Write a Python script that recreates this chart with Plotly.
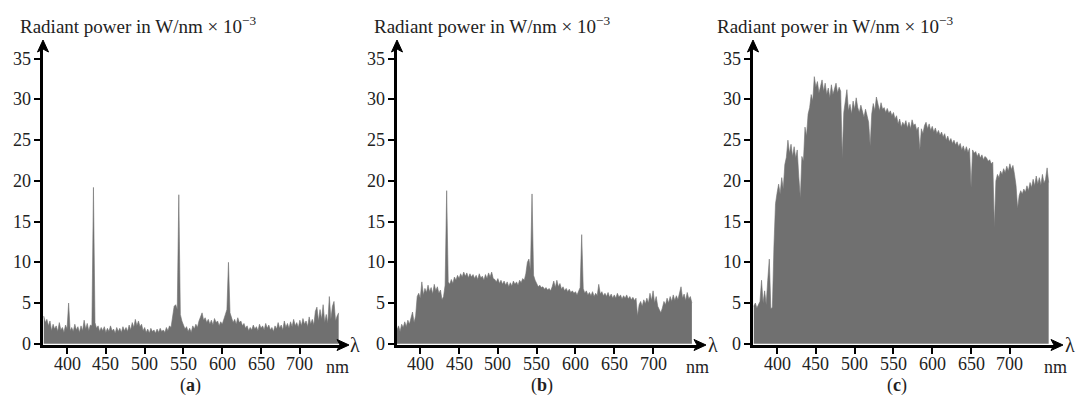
import plotly.graph_objects as go

# wavelength grid (nm), 2 nm steps 370..750
wavelength = list(range(370, 751, 2))

# (a) radiant power, W/nm x 1e-3
power_a = [
    3.4, 2.6, 3.0, 2.2, 2.8, 1.6, 2.4, 1.8, 2.2, 1.5,   # 370-388
    2.6, 1.7, 2.0, 1.4, 2.3, 1.8, 5.0, 1.6, 2.0, 1.5,   # 390-408
    2.4, 1.7, 2.1, 1.4, 2.2, 1.6, 2.9, 1.8, 2.5, 1.6,   # 410-428
    2.3, 2.2, 19.2, 2.6, 1.9, 2.2, 1.5, 2.0, 1.6, 2.1,  # 430-448
    1.4, 1.9, 1.5, 2.2, 1.6, 1.8, 1.3, 2.0, 1.5, 1.9,   # 450-468
    1.4, 2.1, 1.6, 2.0, 1.5, 2.3, 1.7, 2.6, 2.0, 3.0,   # 470-488
    2.2, 2.8, 2.1, 2.4, 1.6, 2.0, 1.4, 1.8, 1.3, 1.9,   # 490-508
    1.5, 1.7, 1.3, 1.8, 1.4, 1.9, 1.5, 1.7, 1.4, 2.0,   # 510-528
    1.6, 2.2, 2.0, 3.2, 4.6, 4.8, 4.2, 18.3, 3.6, 2.8,  # 530-548
    2.2, 1.8, 2.1, 1.5, 1.9, 1.4, 2.2, 1.8, 2.4, 2.0,   # 550-568
    2.8, 3.4, 3.8, 2.9, 3.2, 2.6, 3.0, 2.4, 2.9, 2.3,   # 570-588
    3.1, 2.6, 2.8, 2.2, 2.7, 2.4, 2.9, 3.6, 4.2, 10.0,  # 590-608
    3.8, 3.2, 2.6, 3.0, 2.4, 3.2, 2.6, 2.8, 2.2, 2.5,   # 610-628
    1.9, 2.2, 1.6, 2.0, 1.7, 2.3, 1.8, 2.1, 1.6, 2.4,   # 630-648
    1.9, 2.2, 1.7, 2.5, 1.9, 2.3, 1.7, 2.0, 1.5, 2.2,   # 650-668
    1.8, 2.6, 1.9, 2.3, 1.7, 2.8, 2.0, 2.5, 1.9, 2.7,   # 670-688
    2.1, 3.0, 2.2, 2.6, 2.0, 2.9, 2.2, 3.1, 2.4, 2.8,   # 690-708
    2.1, 3.3, 2.4, 3.0, 2.3, 4.0, 4.5, 2.8, 4.2, 3.0,   # 710-728
    4.8, 2.6, 3.6, 2.5, 5.8, 3.0, 4.6, 5.2, 2.8, 3.4,   # 730-748
    3.8,                                                # 750
]

# (b)
power_b = [
    1.7, 2.2, 1.5, 2.4, 2.0, 2.7, 2.1, 2.9, 2.4, 3.2,   # 370-388
    3.9, 2.6, 3.4, 5.8, 6.2, 5.6, 7.6, 6.0, 6.8, 6.3,   # 390-408
    7.2, 6.4, 6.9, 6.1, 7.3, 6.5, 7.0, 6.2, 6.6, 5.4,   # 410-428
    5.8, 7.2, 18.8, 7.6, 7.3, 7.9, 7.4, 8.2, 7.8, 8.4,  # 430-448
    8.0, 8.6, 8.2, 8.8, 8.3, 8.7, 8.1, 8.6, 8.2, 8.5,   # 450-468
    8.0, 8.4, 7.9, 8.6, 8.1, 8.3, 7.8, 8.5, 8.0, 8.7,   # 470-488
    8.2, 8.8, 8.0, 7.9, 7.6, 8.0, 7.4, 7.8, 7.3, 7.7,   # 490-508
    7.2, 7.6, 7.0, 7.5, 7.1, 7.7, 7.3, 7.6, 7.2, 7.8,   # 510-528
    7.5, 8.0, 7.8, 8.6, 10.0, 10.4, 9.0, 18.4, 8.4, 7.8,  # 530-548
    7.4, 7.0, 7.2, 6.9, 7.0, 6.7, 6.9, 6.6, 6.8, 6.5,   # 550-568
    7.0, 7.7, 6.9, 7.8, 7.0, 7.4, 6.7, 7.0, 6.5, 6.8,   # 570-588
    6.4, 6.7, 6.3, 6.5, 6.2, 6.4, 6.0, 6.6, 6.9, 13.4,  # 590-608
    6.8, 6.2, 6.5, 6.0, 6.3, 5.9, 6.4, 5.8, 6.2, 5.9,   # 610-628
    7.3, 6.1, 6.4, 5.9, 6.2, 5.8, 6.3, 5.7, 6.1, 5.6,   # 630-648
    6.0, 5.6, 6.2, 5.7, 6.0, 5.5, 5.9, 5.6, 6.0, 5.5,   # 650-668
    5.8, 5.4, 5.7, 5.3, 5.6, 3.4, 4.8, 5.2, 4.6, 5.4,   # 670-688
    4.9, 5.6, 5.0, 6.2, 5.3, 6.5, 5.0, 5.8, 4.6, 4.2,   # 690-708
    3.8, 4.4, 5.2, 4.8, 5.6, 5.0, 5.8, 5.2, 6.0, 5.3,   # 710-728
    5.9, 5.4, 6.2, 7.0, 5.6, 6.1, 5.3, 6.3, 5.5, 5.8,   # 730-748
    5.0,                                                # 750
]

# (c)
power_c = [
    4.6, 5.0, 4.4, 4.9, 5.2, 7.8, 5.0, 6.5, 4.8, 7.8,        # 370-388
    10.4, 4.3, 4.5, 12.0, 17.2, 18.5, 19.6, 18.4, 20.4, 19.0,  # 390-408
    22.0, 22.9, 25.0, 23.4, 24.5, 23.0, 24.2, 22.8, 23.8, 20.5,  # 410-428
    17.9, 23.0, 22.4, 26.6, 25.5, 28.2, 29.0, 30.6, 29.8, 32.8,  # 430-448
    31.5, 32.2, 30.8, 31.6, 32.4, 31.0, 32.0, 30.6, 31.4, 30.2,  # 450-468
    31.8, 30.6, 31.2, 32.0, 30.8, 31.5, 31.0, 22.8, 28.4, 29.6,  # 470-488
    31.2, 28.6, 29.4, 28.2, 29.8, 28.8, 30.2, 29.0, 28.4, 29.3,  # 490-508
    28.6, 27.8, 28.8, 28.0, 27.2, 24.3, 28.2, 29.5, 28.6, 30.3,  # 510-528
    29.4, 28.6, 29.6, 28.8, 29.0, 28.4, 28.9, 28.3, 28.6, 28.0,  # 530-548
    28.4, 27.6, 28.0, 27.0, 27.6, 26.6, 27.2, 26.8, 27.4, 26.5,  # 550-568
    27.2, 26.4, 27.5, 26.8, 27.0, 26.2, 26.6, 23.8, 26.4, 25.8,  # 570-588
    26.8, 27.2, 26.4, 27.0, 26.2, 26.7, 26.0, 26.5, 25.8, 26.2,  # 590-608
    25.6, 26.0, 25.4, 25.8, 25.0, 25.5, 24.8, 25.2, 24.6, 25.0,  # 610-628
    24.4, 24.8, 24.2, 24.6, 23.8, 24.3, 23.6, 24.2, 23.5, 24.0,  # 630-648
    19.2, 23.8, 23.4, 23.6, 23.0, 23.4, 22.8, 23.2, 22.6, 23.0,  # 650-668
    22.8, 22.4, 22.6, 22.1, 22.3, 14.3, 20.0, 20.8, 20.4, 21.2,  # 670-688
    20.8, 21.5, 21.0, 21.8, 21.2, 22.1, 21.4, 21.9, 20.8, 19.4,  # 690-708
    16.6, 18.2, 18.8, 18.4, 19.0, 18.6, 19.4, 18.8, 19.8, 19.2,  # 710-728
    20.2, 19.4, 20.6, 19.6, 20.4, 19.5, 20.8, 19.7, 20.2, 21.6,  # 730-748
    19.8,                                                      # 750
]

y_ticks = [0, 5, 10, 15, 20, 25, 30, 35]
x_ticks = [400, 450, 500, 550, 600, 650, 700]
panel_letters = ["a", "b", "c"]
y_title = "Radiant power in W/nm × 10<sup>−3</sup>"

W, H = 1076, 396
FILL = "rgb(112,112,112)"
FONT = "Liberation Serif"
TXT = "#222222"
PX_PER_NM = 0.776

def px(x):
    return x / W

def py(y):
    return 1 - y / H

# panel geometry in pixels
panels = [
    dict(left=43, tip=349, x0=369, tx=18, lam=355, nm=337, lab=190),
    dict(left=397, tip=706, x0=370, tx=372, lam=713, nm=697, lab=542),
    dict(left=753, tip=1063, x0=369, tx=715, lam=1070, nm=1055, lab=897),
]
series = [power_a, power_b, power_c]

y_bottom, y_top = 345, 40
Y_RANGE = [-0.15, 37.3]

fig = go.Figure()
annotations = []
shapes = []
axes = {}


def base_axis():
    return dict(
        showline=True, linewidth=3, linecolor="black", showgrid=False,
        zeroline=False, ticks="outside", ticklen=6, tickwidth=1.5,
        tickcolor="black", showticklabels=False,
    )


for i, (p, vals) in enumerate(zip(panels, series)):
    n = "" if i == 0 else str(i + 1)
    fig.add_trace(go.Scatter(
        x=wavelength, y=vals, mode="lines", fill="tozeroy",
        fillcolor=FILL, line=dict(color=FILL, width=0.6),
        xaxis="x" + n, yaxis="y" + n, showlegend=False,
    ))
    right = p["tip"] - 6
    y_top_line = y_top + 6
    xa = base_axis()
    xa.update(domain=[px(p["left"]), px(right)],
              range=[p["x0"], p["x0"] + (right - p["left"]) / PX_PER_NM],
              tickvals=x_ticks, anchor="y" + n)
    ya = base_axis()
    top_val = Y_RANGE[0] + (Y_RANGE[1] - Y_RANGE[0]) * (y_bottom - y_top_line) / (y_bottom - y_top)
    ya.update(domain=[py(y_bottom), py(y_top_line)], range=[Y_RANGE[0], top_val],
              tickvals=y_ticks, anchor="x" + n)
    axes["xaxis" + n] = xa
    axes["yaxis" + n] = ya

    # tick labels drawn as text on the axes' own scales
    for v in x_ticks:
        annotations.append(dict(
            x=v, xref="x" + n, y=py(364), yref="paper", text=str(v),
            showarrow=False, xanchor="center", yanchor="middle",
            font=dict(family=FONT, size=18, color=TXT),
        ))
    for v in y_ticks:
        annotations.append(dict(
            x=px(p["left"] - 10), xref="paper", y=v, yref="y" + n, text=str(v),
            showarrow=False, xanchor="right", yanchor="middle",
            font=dict(family=FONT, size=18, color=TXT),
        ))

    # arrowheads at the axis ends
    t, yb = p["tip"], y_bottom
    shapes.append(dict(
        type="path", xref="paper", yref="paper", fillcolor="black",
        line=dict(color="black", width=1),
        path="M {} {} L {} {} L {} {} L {} {} Z".format(
            px(t), py(yb), px(t - 12), py(yb - 5.5), px(t - 9), py(yb),
            px(t - 12), py(yb + 5.5)),
    ))
    l = p["left"]
    shapes.append(dict(
        type="path", xref="paper", yref="paper", fillcolor="black",
        line=dict(color="black", width=1),
        path="M {} {} L {} {} L {} {} L {} {} Z".format(
            px(l), py(y_top), px(l - 5.5), py(y_top + 12), px(l), py(y_top + 9),
            px(l + 5.5), py(y_top + 12)),
    ))

    annotations.append(dict(
        x=px(p["tx"]), y=py(25), xref="paper", yref="paper", text=y_title,
        showarrow=False, xanchor="left", yanchor="middle",
        font=dict(family=FONT, size=19, color=TXT),
    ))
    annotations.append(dict(
        x=px(p["lam"]), y=py(345), xref="paper", yref="paper", text="λ",
        showarrow=False, xanchor="center", yanchor="middle",
        font=dict(family=FONT, size=20, color=TXT),
    ))
    annotations.append(dict(
        x=px(p["nm"]), y=py(367), xref="paper", yref="paper", text="nm",
        showarrow=False, xanchor="center", yanchor="middle",
        font=dict(family=FONT, size=18, color=TXT),
    ))
    annotations.append(dict(
        x=px(p["lab"]), y=py(385), xref="paper", yref="paper",
        text="(<b>" + panel_letters[i] + "</b>)",
        showarrow=False, xanchor="center", yanchor="middle",
        font=dict(family=FONT, size=18, color=TXT),
    ))

fig.update_layout(
    width=W, height=H, autosize=False,
    margin=dict(l=0, r=0, t=0, b=0),
    paper_bgcolor="white", plot_bgcolor="white",
    annotations=annotations, shapes=shapes,
    **axes,
)
fig.write_html("out.html")
